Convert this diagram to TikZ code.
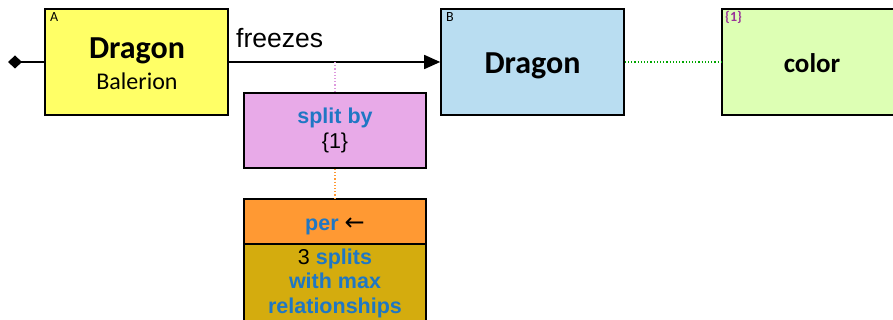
\documentclass[tikz,border=0pt]{standalone}
\usepackage{fontspec}
\setmainfont{Carlito}
\newfontfamily\arialfont{Liberation Sans}
\newfontfamily\symfont{DejaVu Sans}
\usetikzlibrary{arrows.meta, positioning}

\definecolor{boxyellow}{HTML}{FFFF66}
\definecolor{boxblue}{HTML}{B9DDF1}
\definecolor{boxgreen}{HTML}{DDFFB4}
\definecolor{boxpink}{HTML}{E8AAE8}
\definecolor{boxorange}{HTML}{FF9933}
\definecolor{boxolive}{HTML}{D4AC0E}
\definecolor{textblue}{HTML}{1F77C4}
\definecolor{tagpurple}{HTML}{993399}

\begin{document}
\begin{tikzpicture}[
        x=1pt, y=-1pt,
        every node/.style={inner sep=0pt, align=center},
        entity/.style={draw, line width=1.6pt, minimum width=183pt, minimum height=106pt},
        qual/.style={draw, line width=1.6pt, minimum width=182pt},
        arrow/.style={line width=1.6pt}
    ]

    \tikzset{
    tag/.style={anchor=north west, font=\fontsize{14}{15}\selectfont},
    title/.style={font=\fontsize{32}{36}\selectfont\bfseries},
    qtext/.style={font=\arialfont\fontsize{21.5}{24.5}\selectfont},
    link/.style={line width=1.2pt, dotted}
}

    \useasboundingbox (0,0) rectangle (893,320);

    \node[entity, fill=boxyellow] (A) at (136.5,62) {};
    \node[entity, fill=boxblue] (B) at (532.5,62) {};
    \node[entity, fill=boxgreen] (C) at (813.5,62) {};

    \node[qual, fill=boxpink, minimum height=75pt] (split) at (335,130.5) {};
    \node[qual, fill=boxorange, minimum height=45pt] (per) at (335,221.5) {};
    \node[qual, fill=boxolive, minimum height=78pt] (splits) at (335,283) {};

    % texts in the boxes
    \node[title, anchor=base] (nameA) at (137,59) {Dragon};
    \node[anchor=base, font=\fontsize{24}{28}\selectfont] (subA) at (137,90) {Balerion};
    \node[title, anchor=base] (nameB) at (532.5,74) {Dragon};
    \node[anchor=base, font=\fontsize{27}{30}\selectfont\bfseries] (nameC) at (812,73) {color};
    \node[qtext] (splitby) at (split) {\textbf{\color{textblue}split by}\\\{1\}};
    \node[qtext, anchor=base] (perlabel) at (335,231) {\textbf{\color{textblue}per} {\symfont\fontsize{24}{26}\selectfont ←}};
    \node[qtext] (maxlabel) at (splits) {3 \textbf{\color{textblue}splits}\\\textbf{\color{textblue}with max}\\\textbf{\color{textblue}relationships}};

    \node[tag] (tagA) at (50,12) {A};
    \node[tag] (tagB) at (446,12) {B};
    \node[tag, text=tagpurple, font=\fontsize{14}{15}\selectfont\bfseries] (tagC) at (725,11) {\{1\}};

    \coordinate (start) at (8,62);
    \coordinate (tap) at (335,62);

    \draw[arrow, {Diamond[length=14pt, width=13pt]}-] (start) -- (A.west);
    \draw[arrow, -{Triangle[length=16pt, width=14pt]}] (A.east) -- (B.west);
    \node[anchor=base west, font=\arialfont\fontsize{26.5}{30}\selectfont] (verb) at (236,48) {freezes};
    \draw[link, draw=boxpink!90!violet] (tap) -- (split.north);
    \draw[link, draw=boxorange] (split.south) -- (per.north);
    \draw[link, draw=green!65!black] (B.east) -- (C.west);
    \end{tikzpicture}
\end{document}
